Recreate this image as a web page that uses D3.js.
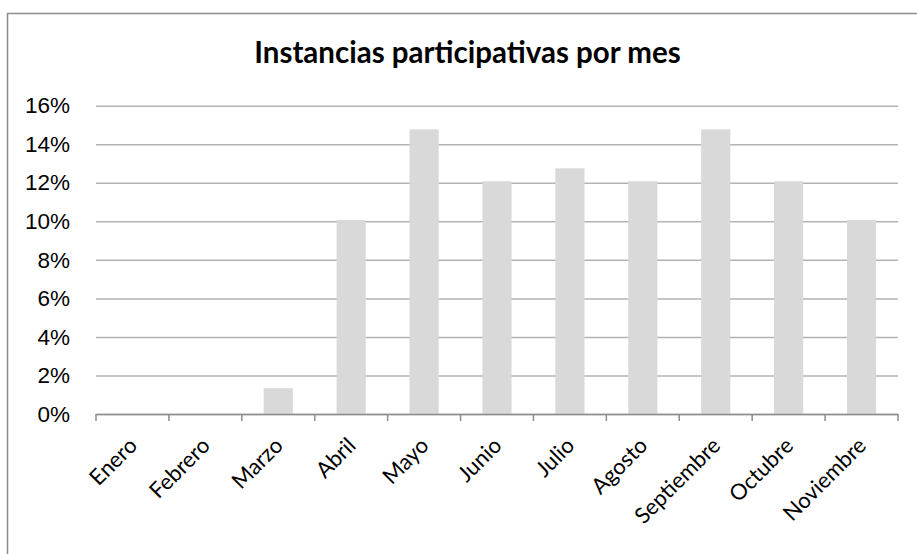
<!DOCTYPE html>
<html><head><meta charset="utf-8">
<script src="https://cdn.jsdelivr.net/npm/d3@7"></script>
<style>
html,body{margin:0;padding:0;background:#fff;}
svg{display:block;font-family:Lato,"Open Sans",sans-serif;}
</style></head>
<body>
<svg id="chart" width="917" height="554"></svg>
<script>
const title = "Instancias participativas por mes";
const months = ["Enero","Febrero","Marzo","Abril","Mayo","Junio","Julio","Agosto","Septiembre","Octubre","Noviembre"];
const values = [0, 0, 0.0134, 0.1007, 0.1477, 0.1208, 0.1275, 0.1208, 0.1477, 0.1208, 0.1007];
const yTicks = [0, 0.02, 0.04, 0.06, 0.08, 0.10, 0.12, 0.14, 0.16];

const svg = d3.select("#chart");
const W = 917, H = 554;
const m = {left: 96, right: 19, top: 105.7, bottom: 140};

// outer border
svg.append("rect").attr("x", 7.5).attr("y", 13.5).attr("width", W + 10).attr("height", H + 10)
  .attr("fill", "none").attr("stroke", "#8c8c8c").attr("stroke-width", 1.5);

const x = d3.scaleBand().domain(months).range([m.left, W - m.right]).paddingInner(0.6).paddingOuter(0.3);
const xb = d3.scaleBand().domain(months).range([m.left, W - m.right]);
const y = d3.scaleLinear().domain([0, 0.16]).range([414, m.top]);

// gridlines
const gy = svg.append("g").attr("transform", `translate(${m.left},0)`)
  .call(d3.axisLeft(y).tickValues(yTicks).tickSize(-(W - m.right - m.left)).tickFormat(d => Math.round(d * 100) + "%").tickPadding(26));
gy.select(".domain").remove();
gy.selectAll(".tick line").attr("stroke", "#b3b3b3").attr("stroke-width", 1.5);
gy.selectAll(".tick text").attr("font-size", 22.5).attr("fill", "#000");

// bars
svg.append("g").selectAll("rect").data(months.map((k, i) => ({k, v: values[i]}))).join("rect")
  .attr("x", d => x(d.k)).attr("width", x.bandwidth())
  .attr("y", d => y(d.v)).attr("height", d => y(0) - y(d.v))
  .attr("fill", "#d9d9d9");

// x axis
const gx = svg.append("g").attr("transform", `translate(0,${y(0)})`)
  .call(d3.axisBottom(xb).tickSizeOuter(0).tickSize(0).tickFormat(""));
gx.select(".domain").attr("stroke", "#8c8c8c").attr("stroke-width", 1.5);
const bounds = months.map(k => xb(k)).concat([xb(months[months.length - 1]) + xb.bandwidth()]);
gx.selectAll("line.b").data(bounds).join("line").attr("class", "b")
  .attr("x1", d => d).attr("x2", d => d).attr("y1", 0).attr("y2", 7)
  .attr("stroke", "#8c8c8c").attr("stroke-width", 1.5);

// x labels
svg.append("g").selectAll("text").data(months).join("text")
  .attr("transform", d => `translate(${xb(d) + xb.bandwidth() / 2 + 6},${y(0) + 33}) rotate(-45)`)
  .attr("text-anchor", "end").attr("font-size", 22).attr("fill", "#000")
  .text(d => d);

// title
svg.append("text").attr("x", 467.5).attr("y", 63).attr("text-anchor", "middle")
  .attr("font-size", 29.5).attr("font-weight", "bold").attr("fill", "#000").text(title);
</script>
</body></html>
